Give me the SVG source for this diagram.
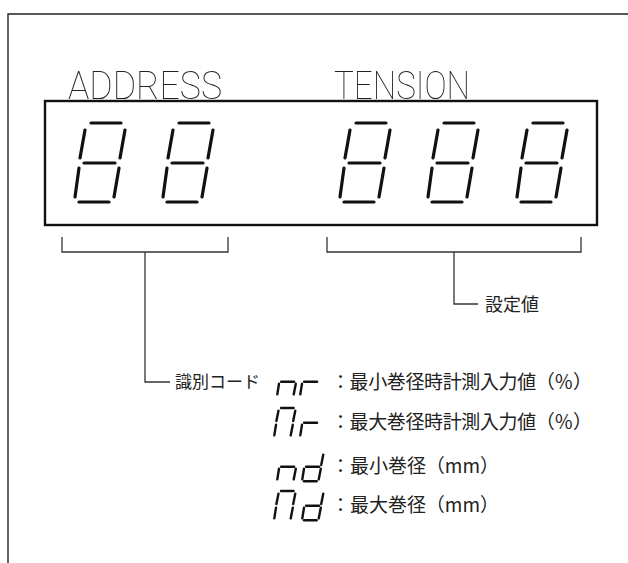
<svg xmlns="http://www.w3.org/2000/svg" width="628" height="563" viewBox="0 0 628 563">
<style>
.frame{fill:none;stroke:#222;stroke-width:1.4}
.box{fill:none;stroke:#111;stroke-width:2.4}
.ln{fill:none;stroke:#333;stroke-width:1.3}
.seg{fill:none;stroke:#111;stroke-width:3.2;stroke-linecap:round}
.sseg{fill:none;stroke:#111;stroke-width:2.4;stroke-linecap:round}
.lab{font-family:Roboto,"DejaVu Sans",sans-serif;font-weight:100;font-size:38px;fill:#222}
.jp{font-family:"Noto Sans CJK JP","Noto Sans",sans-serif;font-size:18px;fill:#222}
.jd{font-family:"Noto Sans CJK JP","Noto Sans",sans-serif;font-size:19px;fill:#222}
</style>
<defs>
<filter id="gray" x="0" y="0" width="1" height="1"><feOffset dx="0" dy="0"/></filter>
<g id="d8" class="seg">
<path d="M12 0L42 0"/><path d="M6 7L1 35"/><path d="M46 7L41 35"/><path d="M5 40L36 40"/><path d="M0 45L-4 74"/><path d="M40 45L35 74"/><path d="M0 79L30 79"/>
</g>
<path id="sA" d="M5 0L17.6 0"/>
<path id="sF" d="M2.5 2.6L0.4 13"/>
<path id="sB" d="M19.3 2.6L17.2 13"/>
<path id="sG" d="M2.1 14.8L15.1 14.8"/>
<path id="sE" d="M0 16.7L-1.7 27.4"/>
<path id="sC" d="M16.8 16.7L14.7 27.4"/>
<path id="sD" d="M0 29.2L12.6 29.2"/>
<g id="cn"><use href="#sG"/><use href="#sE"/><use href="#sC"/></g>
<g id="cr"><use href="#sG"/><use href="#sE"/></g>
<g id="cN"><use href="#sA"/><use href="#sF"/><use href="#sB"/><use href="#sE"/><use href="#sC"/></g>
<g id="cd"><use href="#sB"/><use href="#sC"/><use href="#sD"/><use href="#sE"/><use href="#sG"/></g>
</defs>
<rect width="628" height="563" fill="#fff"/>
<g id="frame"><path class="frame" d="M8 570V14H640"/></g>
<g id="labels" filter="url(#gray)">
<text class="lab" x="68" y="99" textLength="154" lengthAdjust="spacingAndGlyphs">ADDRESS</text>
<text class="lab" x="334" y="99" textLength="136" lengthAdjust="spacingAndGlyphs">TENSION</text>
</g>
<g id="display">
<rect class="box" x="45" y="101" width="552" height="124"/>
<use href="#d8" transform="translate(79,123)"/>
<use href="#d8" transform="translate(167,123)"/>
<use href="#d8" transform="translate(344,123)"/>
<use href="#d8" transform="translate(432,123)"/>
<use href="#d8" transform="translate(521,123)"/>
</g>
<g id="connectors">
<path class="ln" d="M62 237V252H228V237"/>
<path class="ln" d="M145 252V382H170"/>
<path class="ln" d="M327 237V252H581V237"/>
<path class="ln" d="M454 252V304H478"/>
</g>
<g id="setval"><text class="jp" x="485" y="311">設定値</text></g>
<g id="idcode"><text class="jp" x="175" y="388" style="font-size:17px">識別コード</text></g>
<g id="code-nr" class="sseg">
<use href="#cn" transform="translate(279,367)"/><use href="#cr" transform="translate(302,367)"/>
</g>
<g id="code-Nr" class="sseg">
<use href="#cN" transform="translate(276,408)"/><use href="#cr" transform="translate(302,408)"/>
</g>
<g id="code-nd" class="sseg">
<use href="#cn" transform="translate(279,452)"/><use href="#cd" transform="translate(304,452)"/>
</g>
<g id="code-Nd" class="sseg">
<use href="#cN" transform="translate(276,491)"/><use href="#cd" transform="translate(304,491)"/>
</g>
<g id="desc">
<text class="jd" x="331" y="389" textLength="261">：最小巻径時計測入力値（％）</text>
<text class="jd" x="331" y="429" textLength="261">：最大巻径時計測入力値（％）</text>
<text class="jd" x="331" y="473" textLength="168">：最小巻径（mm）</text>
<text class="jd" x="331" y="512" textLength="168">：最大巻径（mm）</text>
</g>
</svg>
